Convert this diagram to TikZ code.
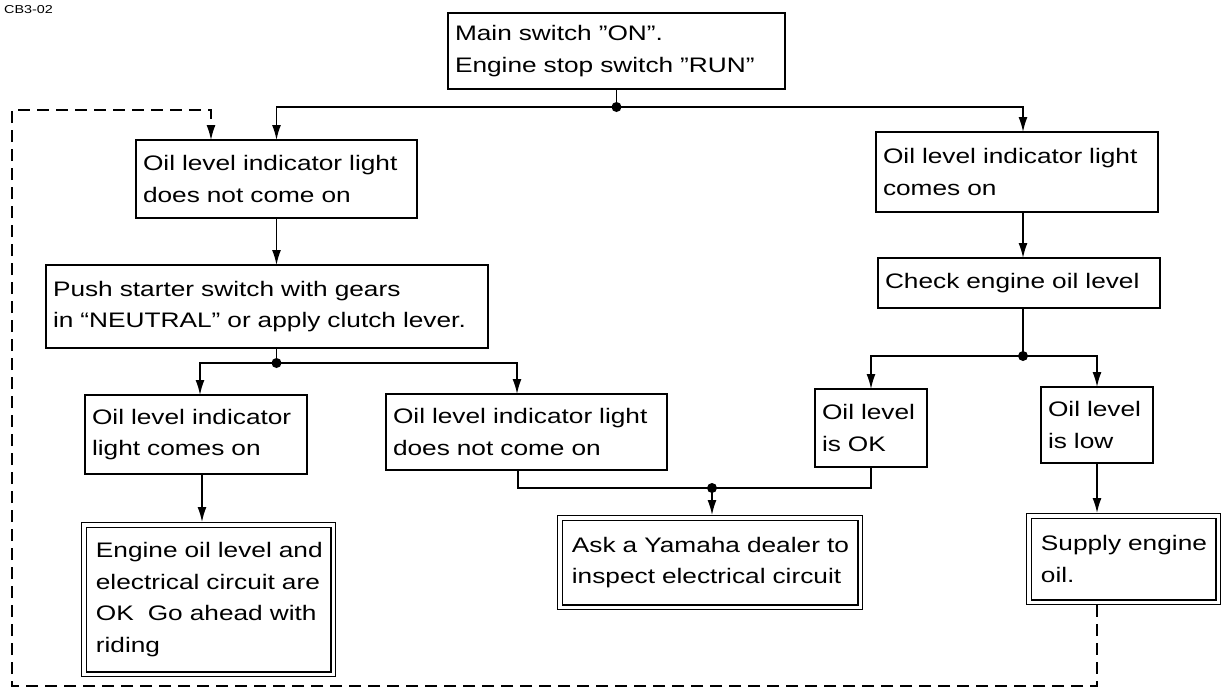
\documentclass[tikz,border=0pt]{standalone}
\usepackage{fontspec}
\setmainfont{Liberation Sans}[FakeStretch=1.25]
\usetikzlibrary{arrows.meta,calc}
\newcommand\oneline[1]{\mbox{#1}}
\begin{document}
\begin{tikzpicture}[x=1pt,y=-1pt,
  conn/.style={line width=1.5pt},
  arr/.style={conn,-{Latex[length=15pt,width=9pt]}},
  dashline/.style={line width=1.3pt,dash pattern=on 12pt off 7pt},
  box/.style={draw,line width=1.5pt,rectangle,anchor=north west,inner xsep=7pt,inner ysep=0pt,
    align=left,font=\fontsize{21}{31.5}\selectfont,outer sep=0pt},
  dbox/.style={box,double,double distance=3.2pt,line width=1.3pt,inner xsep=12pt,outer sep=2.9pt},
  jdot/.style={fill=black}]
\useasboundingbox (0,0) rectangle (1223,691);

\node[anchor=west,font=\fontsize{11.5}{13}\selectfont,inner sep=0pt] (lbl) at (4,10) {CB3-02};

\node[box,minimum width=337pt,minimum height=76pt,text width=323pt] (T) at (448,13)
  {\oneline{Main switch "ON".}\\\oneline{Engine stop switch "RUN"}};
\node[box,minimum width=281pt,minimum height=78pt,text width=267pt] (A) at (136,140)
  {\oneline{Oil level indicator light}\\\oneline{does not come on}};
\node[box,minimum width=282pt,minimum height=80pt,text width=268pt] (B) at (876,132)
  {\oneline{Oil level indicator light}\\\oneline{comes on}};
\node[box,minimum width=442pt,minimum height=83pt,text width=428pt] (C) at (46,265)
  {\oneline{Push starter switch with gears}\\\oneline{in “NEUTRAL” or apply clutch lever.}};
\node[box,minimum width=282pt,minimum height=50pt,text width=268pt] (F) at (878,258)
  {\oneline{Check engine oil level}};
\node[box,minimum width=222pt,minimum height=79pt,text width=208pt] (D) at (85,395)
  {\oneline{Oil level indicator}\\\oneline{light comes on}};
\node[box,minimum width=281pt,minimum height=76pt,text width=267pt] (E) at (386,394)
  {\oneline{Oil level indicator light}\\\oneline{does not come on}};
\node[box,minimum width=112pt,minimum height=78pt,text width=98pt] (G) at (815,389)
  {\oneline{Oil level}\\\oneline{is OK}};
\node[box,minimum width=112pt,minimum height=76pt,text width=98pt] (H) at (1041,387)
  {\oneline{Oil level}\\\oneline{is low}};
\node[dbox,minimum width=300.2pt,minimum height=89.2pt,text width=276.2pt] (I) at (557,515)
  {\oneline{Ask a Yamaha dealer to}\\\oneline{inspect electrical circuit}};
\node[dbox,minimum width=249.2pt,minimum height=149.2pt,text width=225.2pt] (J) at (81,522)
  {\oneline{Engine oil level and}\\\oneline{electrical circuit are}\\\oneline{OK\ \ Go ahead with}\\\oneline{riding}};
\node[dbox,minimum width=189.2pt,minimum height=86.2pt,text width=165.2pt] (K) at (1026,513)
  {\oneline{Supply engine}\\\oneline{oil.}};

\coordinate (d1) at (616.5,107);
\coordinate (d2) at (276.5,363);
\coordinate (d3) at (712,488);
\coordinate (d4) at (1023,356);
\coordinate (lb) at (12,686);
\coordinate (lt) at (12,110);

\draw[conn] (T.south) -- (d1);
\draw[arr] (d1) -| (A.north);
\draw[arr] (d1) -| ([xshift=6pt]B.north);
\draw[arr] (A.south) -- (A.south |- C.north);
\draw[conn] (d2 |- C.south) -- (d2);
\draw[arr] (d2) -| ([xshift=4pt]D.north);
\draw[arr] (d2) -| ([xshift=-9.5pt]E.north);
\draw[arr] ([xshift=6pt]D.south) -- ([xshift=6pt]D.south |- J.north);
\draw[conn] ([xshift=-8.5pt]E.south) |- (d3) -| (G.south);
\draw[arr] (d3) -- (d3 |- I.north);
\draw[arr] ([xshift=6pt]B.south) -- ([xshift=6pt]B.south |- F.north);
\draw[conn] (d4 |- F.south) -- (d4);
\draw[arr] (d4) -| (G.north);
\draw[arr] (d4) -| (H.north);
\draw[arr] (H.south) -- (H.south |- K.north);
\draw[dashline,-{Latex[length=15pt,width=9pt]}] (H.south |- K.south) |- (lb) -- (lt) -| ([xshift=-65.5pt]A.north);

\foreach \d in {d1,d2,d3,d4} \fill[jdot] (\d) circle (5pt);
\end{tikzpicture}
\end{document}
